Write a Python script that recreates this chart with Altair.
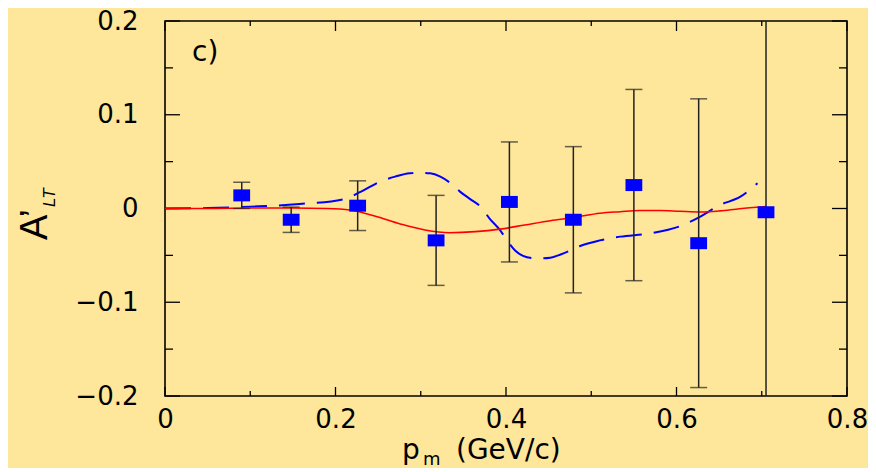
import altair as alt
import pandas as pd

# ---- data ----
pm = [0.090, 0.148, 0.226, 0.318, 0.404, 0.479, 0.550, 0.626, 0.705]
alt_val = [0.014, -0.012, 0.003, -0.034, 0.007, -0.012, 0.025, -0.037, -0.004]
err = [0.014, 0.0135, 0.0265, 0.048, 0.064, 0.078, 0.102, 0.154, 0.30]

red_x = [0, 0.05, 0.10, 0.15, 0.19, 0.217, 0.246, 0.276, 0.305, 0.334, 0.364, 0.393,
         0.422, 0.452, 0.481, 0.51, 0.534, 0.557, 0.581, 0.604, 0.628, 0.651, 0.674, 0.705]
red_y = [0, 0, 0.0005, 0.0005, 0.0, -0.0016, -0.008, -0.0165, -0.023, -0.0258, -0.0247, -0.022,
         -0.0176, -0.013, -0.0094, -0.005, -0.0034, -0.0022, -0.0022, -0.003, -0.0037, -0.0025, -0.0002, 0.002]

blue_x = [0, 0.05, 0.10, 0.13, 0.158, 0.209, 0.23, 0.252, 0.27, 0.287, 0.299, 0.311, 0.323, 0.335,
          0.346, 0.358, 0.37, 0.381, 0.393, 0.402, 0.411, 0.42, 0.432, 0.44, 0.452, 0.464, 0.475,
          0.487, 0.51, 0.534, 0.569, 0.604, 0.628, 0.651, 0.675, 0.695]
blue_y = [0, 0.0005, 0.002, 0.003, 0.0048, 0.0098, 0.018, 0.0286, 0.034, 0.0375, 0.038, 0.0375,
          0.034, 0.027, 0.018, 0.01, 0.002, -0.011, -0.023, -0.035, -0.045, -0.0505, -0.053,
          -0.0532, -0.0525, -0.049, -0.045, -0.040, -0.034, -0.030, -0.0265, -0.019, -0.0087,
          0.0037, 0.0126, 0.027]

x_major = [0, 0.2, 0.4, 0.6, 0.8]
x_minor = [0.1, 0.3, 0.5, 0.7]
y_major = [-0.2, -0.1, 0, 0.1, 0.2]
y_minor = [-0.15, -0.05, 0.05, 0.15]

W, H = 682, 375
BG = "#FEE69A"

xs = alt.Scale(domain=[0, 0.8], nice=False, zero=False)
ys = alt.Scale(domain=[-0.2, 0.2], nice=False, zero=False)
xaxis = alt.Axis(values=x_major, format=".1~f", title=None, labelFlush=False,
                 labelBaseline="alphabetic", labelPadding=31, labelOverlap=False)
yaxis = alt.Axis(values=y_major, format=".1~f", title=None, labelPadding=27,
                 labelBaseline="middle", labelAlign="right", labelOverlap=False)


def X(f):
    return alt.X(f, type="quantitative", scale=xs, axis=xaxis)


def Y(f):
    return alt.Y(f, type="quantitative", scale=ys, axis=yaxis)


pts = pd.DataFrame({"x": pm, "y": alt_val, "e": err})
pts["lo"] = pts["y"] - pts["e"]
pts["hi"] = pts["y"] + pts["e"]
red = pd.DataFrame({"x": red_x, "y": red_y})
blue = pd.DataFrame({"x": blue_x, "y": blue_y})

one = pd.DataFrame({"k": [0]})

layers = []

# tick marks (inside, on all four sides)
dxM = pd.DataFrame({"x": x_major})
dxm = pd.DataFrame({"x": x_minor})
dyM = pd.DataFrame({"y": y_major})
dym = pd.DataFrame({"y": y_minor})
tk = dict(color="black", strokeWidth=1.3)
layers += [
    alt.Chart(dxM).mark_rule(**tk).encode(x=X("x"), y=alt.value(H), y2=alt.value(H - 9)),
    alt.Chart(dxm).mark_rule(**tk).encode(x=X("x"), y=alt.value(H), y2=alt.value(H - 5)),
    alt.Chart(dxM).mark_rule(**tk).encode(x=X("x"), y=alt.value(0), y2=alt.value(10)),
    alt.Chart(dxm).mark_rule(**tk).encode(x=X("x"), y=alt.value(0), y2=alt.value(5)),
    alt.Chart(dyM).mark_rule(**tk).encode(y=Y("y"), x=alt.value(0), x2=alt.value(15)),
    alt.Chart(dym).mark_rule(**tk).encode(y=Y("y"), x=alt.value(0), x2=alt.value(8)),
    alt.Chart(dyM).mark_rule(**tk).encode(y=Y("y"), x=alt.value(W), x2=alt.value(W - 15)),
    alt.Chart(dym).mark_rule(**tk).encode(y=Y("y"), x=alt.value(W), x2=alt.value(W - 8)),
]

# theory curves
layers += [
    alt.Chart(blue).mark_line(color="#0000FF", strokeWidth=2, strokeDash=[26, 12],
                              interpolate="monotone").encode(x=X("x"), y=Y("y")),
    alt.Chart(red).mark_line(color="#FF0000", strokeWidth=1.6,
                             interpolate="monotone").encode(x=X("x"), y=Y("y")),
]

# error bars
layers += [
    alt.Chart(pts).mark_rule(color="#222222", strokeWidth=1.5, clip=True).encode(
        x=X("x"), y=Y("lo"), y2="hi"),
    alt.Chart(pts).mark_tick(color="#222222", orient="horizontal", size=17, thickness=1.5,
                             clip=True).encode(x=X("x"), y=Y("lo")),
    alt.Chart(pts).mark_tick(color="#222222", orient="horizontal", size=17, thickness=1.5,
                             clip=True).encode(x=X("x"), y=Y("hi")),
]

# data points (blue rectangles)
layers.append(
    alt.Chart(pts).mark_point(shape="M-1.4,-1L1.4,-1L1.4,1L-1.4,1Z", filled=True, size=144,
                              color="#0000FF", opacity=1).encode(x=X("x"), y=Y("y"))
)

# texts
txt = dict(color="black", baseline="alphabetic", align="left")
layers += [
    alt.Chart(one).mark_text(text="c)", font="DejaVu Sans", fontSize=28, **txt).encode(
        x=alt.value(27), y=alt.value(40)),
    alt.Chart(one).mark_text(text="A\u2019", font="Liberation Sans", fontSize=38, angle=270,
                             **txt).encode(x=alt.value(-118), y=alt.value(219)),
    alt.Chart(one).mark_text(text="LT", font="Liberation Sans", fontSize=17, fontStyle="italic",
                             angle=270, **txt).encode(x=alt.value(-110), y=alt.value(186)),
    alt.Chart(one).mark_text(text="p", font="DejaVu Sans", fontSize=28, **txt).encode(
        x=alt.value(237), y=alt.value(438)),
    alt.Chart(one).mark_text(text="m", font="DejaVu Sans", fontSize=18, **txt).encode(
        x=alt.value(258), y=alt.value(444)),
    alt.Chart(one).mark_text(text="(GeV/c)", font="DejaVu Sans", fontSize=28, **txt).encode(
        x=alt.value(291), y=alt.value(438)),
]

chart = alt.layer(*layers).properties(
    width=W, height=H,
    autosize=alt.AutoSizeParams(type="none"),
    padding={"left": 157, "top": 13, "right": 21, "bottom": 72},
    background=BG,
).configure_view(
    stroke="black", strokeWidth=1.6, fill=BG
).configure_axis(
    labelFont="DejaVu Sans", labelFontSize=26, labelColor="black",
    grid=False, domain=False, ticks=False, tickSize=0
)

chart.save("out.html", embed_options={"renderer": "svg", "actions": False})
